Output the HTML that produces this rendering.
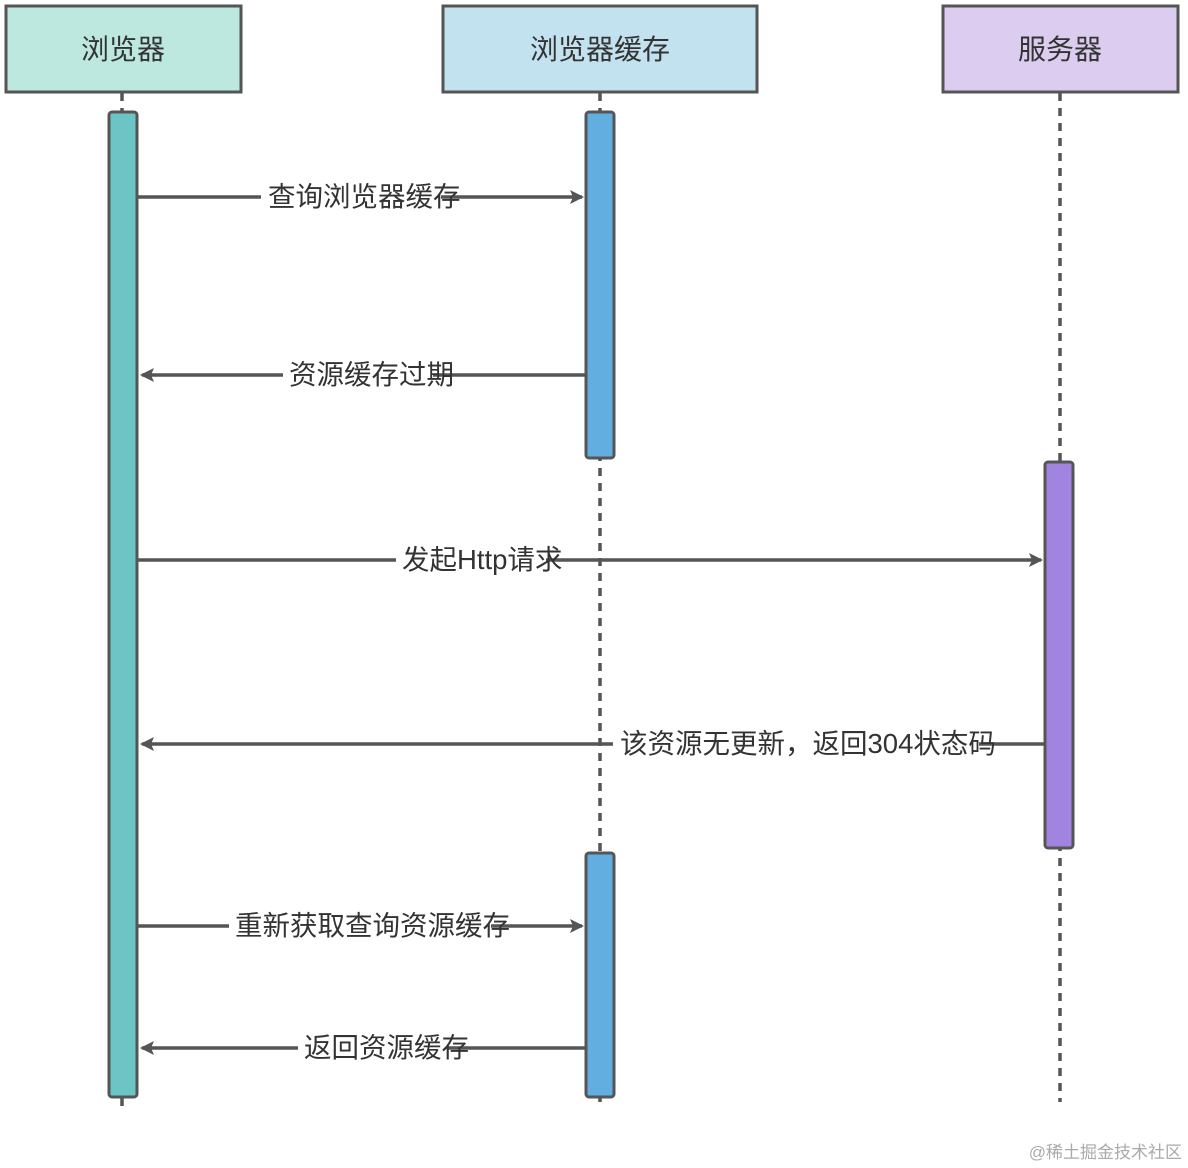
<!DOCTYPE html>
<html><head><meta charset="utf-8"><style>
html,body{margin:0;padding:0;background:#fff;}
svg{display:block;}
text{font-family:"Liberation Sans","Noto Sans CJK SC",sans-serif;}
</style></head><body>
<svg width="1188" height="1168" viewBox="0 0 1188 1168" xmlns="http://www.w3.org/2000/svg">
<defs>
<marker id="ar" markerWidth="14" markerHeight="14" refX="12" refY="7" orient="auto" markerUnits="userSpaceOnUse">
<path d="M0,0 L14,7 L0,14 L3,7 z" fill="#555"/>
</marker>
</defs>
<rect x="6" y="6" width="235" height="86" fill="#bde8df" stroke="#555" stroke-width="3"/>
<rect x="443" y="6" width="314" height="86" fill="#c3e2f0" stroke="#555" stroke-width="3"/>
<rect x="943" y="6" width="235" height="86" fill="#dccdf0" stroke="#555" stroke-width="3"/>
<text x="123" y="59" font-size="28" text-anchor="middle" fill="#333">浏览器</text>
<text x="600" y="59" font-size="28" text-anchor="middle" fill="#333">浏览器缓存</text>
<text x="1060" y="59" font-size="28" text-anchor="middle" fill="#333">服务器</text>
<g stroke="#555" stroke-width="3.5" stroke-dasharray="8,7">
<line x1="122" y1="93" x2="122" y2="1110"/>
<line x1="600" y1="93" x2="600" y2="1102"/>
<line x1="1060" y1="93" x2="1060" y2="1102"/>
</g>
<rect x="109" y="112" width="28" height="985" rx="3" fill="#6cc4c4" stroke="#555" stroke-width="3"/>
<rect x="586" y="112" width="28" height="346" rx="3" fill="#62aee0" stroke="#555" stroke-width="3"/>
<rect x="586" y="853" width="28" height="244" rx="3" fill="#62aee0" stroke="#555" stroke-width="3"/>
<rect x="1045" y="462" width="28" height="386" rx="3" fill="#a184e0" stroke="#555" stroke-width="3"/>
<g stroke="#555" stroke-width="3.5" fill="none">
<line x1="138" y1="197" x2="582" y2="197" marker-end="url(#ar)"/>
<line x1="585" y1="375" x2="142" y2="375" marker-end="url(#ar)"/>
<line x1="138" y1="560" x2="1041" y2="560" marker-end="url(#ar)"/>
<line x1="1044" y1="744" x2="142" y2="744" marker-end="url(#ar)"/>
<line x1="138" y1="926" x2="582" y2="926" marker-end="url(#ar)"/>
<line x1="585" y1="1048" x2="142" y2="1048" marker-end="url(#ar)"/>
</g>
<g fill="#fff">
<rect x="261" y="183" width="180" height="30"/>
<rect x="283" y="361" width="150" height="30"/>
<rect x="396" y="546" width="150" height="30"/>
<rect x="613" y="730" width="366" height="30"/>
<rect x="229" y="912" width="262" height="30"/>
<rect x="298" y="1034" width="150" height="30"/>
</g>
<g font-size="27.5" fill="#333">
<text x="268" y="206">查询浏览器缓存</text>
<text x="289" y="384">资源缓存过期</text>
<text x="402" y="569">发起Http请求</text>
<text x="620" y="753">该资源无更新，返回304状态码</text>
<text x="235" y="935">重新获取查询资源缓存</text>
<text x="304" y="1057">返回资源缓存</text>
</g>
<text x="1182" y="1158" font-size="17" fill="#aaa" text-anchor="end">@稀土掘金技术社区</text>
</svg>
</body></html>
